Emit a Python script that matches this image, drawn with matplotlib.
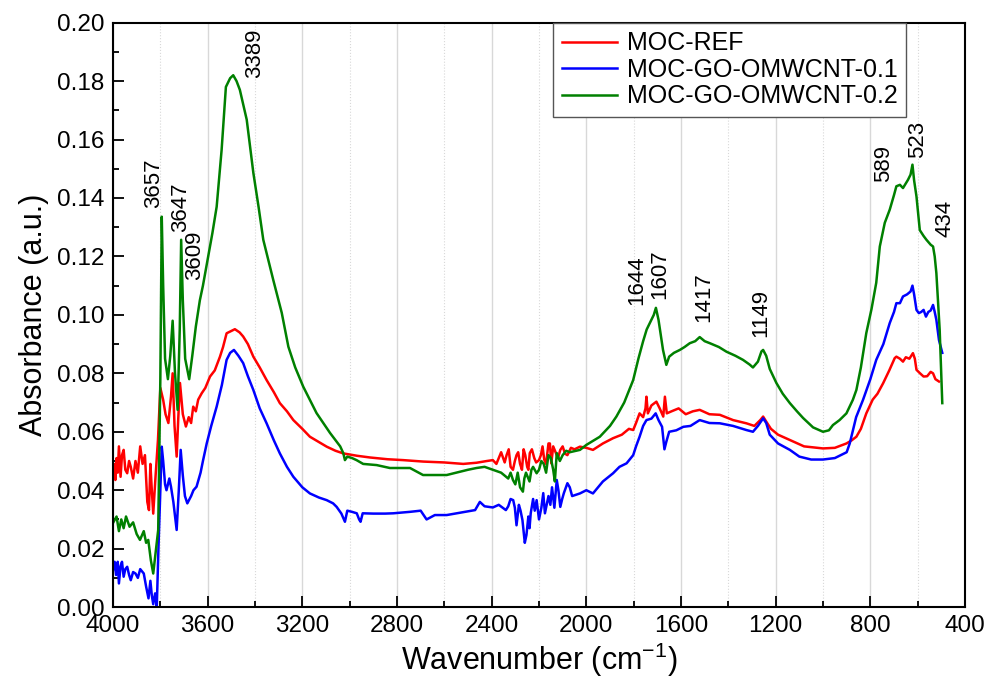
import matplotlib
matplotlib.use("Agg")
import matplotlib.pyplot as plt
from matplotlib.ticker import MultipleLocator

plt.rcParams["font.family"] = ["Liberation Sans", "DejaVu Sans"]
plt.rcParams["mathtext.default"] = "regular"

# ── Data ──────────────────────────────────────────
# MOC-REF
wn_ref = [4000, 3995, 3990, 3985, 3980, 3975, 3968, 3962, 3955, 3948, 3940, 3932, 3925, 3915,
          3905, 3895, 3885, 3875, 3865, 3855, 3848, 3842, 3836, 3830, 3820, 3810, 3800, 3788,
          3778, 3766, 3755, 3748, 3740, 3731, 3724, 3717, 3705, 3692, 3680, 3670, 3661, 3650,
          3640, 3625, 3610, 3590, 3570, 3548, 3535, 3520, 3500, 3485, 3465, 3450, 3430, 3407,
          3380, 3351, 3320, 3295, 3265, 3238, 3200, 3168, 3130, 3097, 3060, 3027, 2970, 2914,
          2840, 2774, 2689, 2600, 2520, 2464,
          2420, 2395, 2380, 2360, 2345, 2337, 2328, 2320, 2310, 2302, 2295, 2288, 2280, 2272,
          2265, 2258, 2250, 2245, 2239, 2230, 2220, 2212, 2200, 2192, 2185, 2178, 2170, 2160,
          2154, 2148, 2140, 2130, 2120, 2110, 2100, 2090, 2080, 2065, 2050,
          2027, 2000, 1972, 1930, 1887, 1850, 1820, 1802, 1790, 1775, 1760, 1750, 1746,
          1740, 1725, 1704, 1690, 1675, 1668, 1660, 1640, 1610, 1580, 1550, 1521, 1480, 1436,
          1380, 1324, 1290, 1265, 1253, 1240, 1220, 1190, 1140, 1080, 1000, 950, 901, 880,
          859, 840, 817, 790, 770, 746, 720, 697, 690, 675, 662, 650, 635, 620, 612, 605,
          590, 575, 560, 545, 535, 525, 510]
abs_ref = [0.047, 0.049, 0.0435, 0.051, 0.046, 0.055, 0.0446, 0.052, 0.0538, 0.047, 0.0458, 0.050,
           0.048, 0.044, 0.050, 0.046, 0.055, 0.049, 0.052, 0.036, 0.0332, 0.049, 0.040, 0.032,
           0.045, 0.0572, 0.075, 0.0709, 0.066, 0.063, 0.072, 0.080, 0.062, 0.0515, 0.065, 0.0767,
           0.066, 0.0618, 0.065, 0.063, 0.0686, 0.067, 0.071, 0.0732, 0.075, 0.0789, 0.081, 0.0857,
           0.089, 0.0937, 0.0945, 0.0951, 0.094, 0.0926, 0.090, 0.0857, 0.082, 0.0777, 0.0735,
           0.0698, 0.067, 0.064, 0.061, 0.0583, 0.0565, 0.0549, 0.0535, 0.0526, 0.0518, 0.0512,
           0.0506, 0.0503, 0.0498, 0.0495, 0.049, 0.0494,
           0.050, 0.0503, 0.049, 0.053, 0.0495, 0.052, 0.054, 0.048, 0.047, 0.050, 0.052, 0.053,
           0.049, 0.047, 0.054, 0.052, 0.048, 0.047, 0.0527, 0.054, 0.051, 0.0495, 0.0503, 0.052,
           0.055, 0.0505, 0.049, 0.056, 0.056, 0.0492, 0.055, 0.053, 0.051, 0.0538, 0.055, 0.0525,
           0.052, 0.0545, 0.054,
           0.0549, 0.0545, 0.0538, 0.056, 0.0578,
           0.059, 0.061, 0.0606, 0.063, 0.0663, 0.065, 0.068, 0.072, 0.0663, 0.069, 0.0703,
           0.068, 0.0652, 0.072, 0.0663, 0.067, 0.068, 0.066, 0.067, 0.0675, 0.066, 0.0658,
           0.064, 0.0629, 0.062, 0.064, 0.0652, 0.0635, 0.061, 0.059, 0.0572, 0.055, 0.0543,
           0.0545, 0.056, 0.057, 0.0583, 0.061, 0.0663, 0.071, 0.073, 0.0766, 0.081, 0.0852,
           0.0857, 0.085, 0.084, 0.0855, 0.085, 0.0869, 0.085, 0.0812, 0.080, 0.0789, 0.079,
           0.0805, 0.080, 0.078, 0.0772]

# MOC-GO-OMWCNT-0.1
wn_01 = [4000, 3993, 3987, 3980, 3975, 3968, 3962, 3955, 3948, 3940, 3932, 3925, 3915, 3905,
         3895, 3885, 3870, 3860, 3850, 3842, 3836, 3830, 3822, 3815, 3808, 3800, 3794, 3788,
         3780, 3774, 3762, 3755, 3745, 3731, 3722, 3714, 3705, 3696, 3686, 3670, 3660, 3647,
         3630, 3620, 3604, 3585, 3562, 3540, 3520, 3505, 3489, 3470, 3450, 3430, 3407, 3380,
         3351, 3320, 3295, 3265, 3238, 3200, 3168, 3130, 3097, 3070, 3055, 3035, 3020, 3010,
         2990, 2970, 2960, 2954, 2945, 2900, 2850, 2816, 2745, 2700, 2675, 2640, 2590, 2520,
         2470, 2450, 2430, 2395, 2370, 2340, 2330, 2320, 2309, 2302, 2295, 2285, 2278, 2270,
         2260, 2253, 2245, 2240, 2235, 2225, 2218, 2210, 2200, 2190, 2182, 2175, 2160, 2152,
         2145, 2135, 2125, 2118, 2110, 2102, 2095, 2080, 2070, 2060,
         2027, 2000, 1972, 1930, 1887, 1860, 1830, 1802, 1790, 1775, 1760, 1746, 1725, 1707,
         1695, 1680, 1670, 1662, 1650, 1620, 1590, 1560, 1521, 1480, 1436, 1380, 1324, 1296,
         1275, 1253, 1240, 1225, 1190, 1140, 1100, 1050, 1000, 950, 900, 887, 860, 831,
         800, 775, 745, 718, 700, 690, 675, 662, 645, 630, 622, 615, 605, 595, 585, 575,
         565, 555, 545, 535, 528, 521, 510, 496]
abs_01 = [0.0127, 0.0155, 0.011, 0.0155, 0.0081, 0.014, 0.0155, 0.0104, 0.013, 0.0138, 0.011,
          0.0092, 0.012, 0.0115, 0.010, 0.013, 0.0115, 0.007, 0.003, 0.009, 0.004, 0.001,
          0.0047, 0.0001, 0.020, 0.040, 0.0549, 0.050, 0.042, 0.040, 0.044, 0.0412, 0.036,
          0.0264, 0.040, 0.0538, 0.045, 0.038, 0.0355, 0.038, 0.040, 0.0412, 0.046, 0.050,
          0.056, 0.062, 0.0686, 0.076, 0.0846, 0.087, 0.088, 0.086, 0.0835, 0.079, 0.0743,
          0.068, 0.0629, 0.057, 0.0526, 0.048, 0.0446, 0.041, 0.0389, 0.0375, 0.0366, 0.0355,
          0.0343, 0.032, 0.0292, 0.033, 0.0326, 0.0321, 0.030, 0.0292, 0.0321, 0.032, 0.032,
          0.0321, 0.0326, 0.033, 0.030, 0.0315, 0.0315, 0.0325,
          0.0332, 0.036, 0.0345, 0.0341, 0.035, 0.0332, 0.0345, 0.037, 0.0366, 0.034, 0.028,
          0.035, 0.033, 0.0298, 0.022, 0.0247, 0.031, 0.027, 0.0321, 0.037, 0.033, 0.0366,
          0.030, 0.034, 0.039, 0.0321, 0.038, 0.035, 0.041, 0.034, 0.0435, 0.040, 0.0343,
          0.037, 0.039, 0.0424, 0.041, 0.038,
          0.0389, 0.040, 0.0389, 0.043, 0.0458, 0.048, 0.0492, 0.052, 0.055,
          0.0583, 0.062, 0.064, 0.0645, 0.0663, 0.064, 0.0617, 0.054, 0.0566, 0.060, 0.0605,
          0.0617, 0.062, 0.064, 0.063, 0.0629, 0.062, 0.0606, 0.0600, 0.062, 0.0646, 0.063,
          0.059, 0.056, 0.0538, 0.0515, 0.0505, 0.0505, 0.051, 0.053, 0.056, 0.065, 0.0709,
          0.078, 0.0846, 0.090, 0.0972, 0.101, 0.104, 0.104, 0.1063, 0.107, 0.108, 0.110,
          0.107, 0.1017, 0.1006, 0.101, 0.1017, 0.0994, 0.101, 0.1015, 0.1034, 0.101, 0.0983,
          0.0914, 0.087]

# MOC-GO-OMWCNT-0.2
wn_02 = [4000, 3985, 3975, 3965, 3955, 3945, 3930, 3915, 3900, 3886, 3870, 3860, 3851, 3840,
         3830, 3815, 3809, 3800, 3794, 3788, 3780, 3768, 3758, 3748, 3738, 3727, 3718, 3712,
         3705, 3695, 3678, 3665, 3650, 3633, 3620, 3600, 3580, 3562, 3541, 3523, 3505, 3492,
         3478, 3464, 3435, 3407, 3385, 3365, 3323, 3287, 3259, 3230, 3196, 3140, 3083, 3040,
         3027, 3020, 3010, 2990, 2971, 2943, 2886, 2830, 2745, 2690, 2590, 2500, 2464,
         2430, 2395, 2360, 2330, 2320, 2310, 2300, 2290, 2280, 2268, 2262, 2255, 2240, 2232,
         2225, 2210, 2200, 2190, 2180, 2170, 2160, 2150, 2140, 2133, 2125, 2112, 2100, 2085,
         2070,
         2027, 2000, 1943, 1900, 1873, 1840, 1802, 1780, 1760,
         1745, 1732, 1715, 1706, 1695, 1676, 1662, 1650, 1630, 1605, 1585, 1563, 1540, 1521,
         1500, 1478, 1440, 1408, 1370, 1338, 1310, 1296, 1275, 1260, 1253, 1240, 1225, 1197,
         1170, 1140, 1110, 1084, 1042, 1000, 975, 958, 930, 901, 874, 859, 840, 817,
         795, 775, 760, 739, 718, 700, 690, 675, 662, 650, 641, 630, 622, 615, 605, 591,
         575, 563, 545, 535, 528, 521, 507, 496]
abs_02 = [0.0288, 0.031, 0.026, 0.030, 0.027, 0.031, 0.0275, 0.029, 0.025, 0.023, 0.026, 0.022,
          0.023, 0.016, 0.0115, 0.022, 0.0264, 0.078, 0.1336, 0.110, 0.085, 0.078, 0.086, 0.098,
          0.080, 0.0675, 0.095, 0.1257, 0.105, 0.085, 0.078, 0.086, 0.096, 0.105, 0.110, 0.119,
          0.128, 0.137, 0.1565, 0.178, 0.181, 0.182, 0.180, 0.177, 0.1668, 0.1486, 0.137, 0.1257,
          0.112, 0.1007, 0.0891, 0.082, 0.0754, 0.0664, 0.0596, 0.055, 0.0527, 0.0503, 0.0515,
          0.051, 0.0503, 0.049, 0.0486, 0.0476, 0.0476, 0.0452, 0.0452, 0.047, 0.0476,
          0.048, 0.047, 0.046, 0.044, 0.046, 0.0435, 0.042, 0.046, 0.041, 0.0395, 0.044, 0.046,
          0.043, 0.047, 0.048, 0.0458, 0.047, 0.050, 0.049, 0.046, 0.052, 0.051, 0.047, 0.043,
          0.0527, 0.050, 0.052, 0.0535, 0.053,
          0.0538, 0.0555, 0.0583, 0.062, 0.0652,
          0.070, 0.0777, 0.085, 0.091, 0.095, 0.0972, 0.100, 0.1024, 0.0983, 0.088, 0.0829,
          0.0857, 0.087, 0.088, 0.089, 0.0903, 0.091, 0.0924, 0.091, 0.0903, 0.089, 0.0874,
          0.086, 0.0846, 0.083, 0.082, 0.084, 0.0875, 0.088, 0.086, 0.0815, 0.0767, 0.073,
          0.0698, 0.067, 0.0647, 0.0615, 0.060, 0.0605, 0.0623, 0.064, 0.0663, 0.0709, 0.0743,
          0.082, 0.0938, 0.102, 0.111, 0.1234, 0.1315, 0.136, 0.141, 0.144, 0.1445, 0.1434,
          0.145, 0.1462, 0.148, 0.1514, 0.146, 0.1405, 0.129, 0.127, 0.1257, 0.124, 0.1234,
          0.120, 0.1143, 0.0949, 0.0698]

series_labels = ["MOC-REF", "MOC-GO-OMWCNT-0.1", "MOC-GO-OMWCNT-0.2"]
series_colors = ["#FF0000", "#0000FF", "#008000"]

# peak labels: text, x position (wavenumber), y of text bottom
peak_text = ["3657", "3647", "3609", "3389", "1644", "1607", "1417", "1149", "589", "523", "434"]
peak_x = [3827, 3715, 3656, 3400, 1785, 1690, 1502, 1263, 742, 602, 486]
peak_y = [0.1366, 0.1284, 0.112, 0.181, 0.1035, 0.1055, 0.0976, 0.0925, 0.1455, 0.1538, 0.1267]

# ── Figure ─────────────────────────────────────────
fig = plt.figure(figsize=(10, 6.86), dpi=100)
ax = fig.add_axes([0.113, 0.115, 0.852, 0.852])

ax.xaxis.grid(True, which="major", color="#d8d8d8", linewidth=1.0, linestyle="-")
ax.xaxis.grid(True, which="minor", color="#d8d8d8", linewidth=0.8, linestyle=":")
ax.set_axisbelow(True)

for wn, ab, lab, col in zip([wn_ref, wn_01, wn_02], [abs_ref, abs_01, abs_02],
                            series_labels, series_colors):
    ax.plot(wn, ab, color=col, linewidth=1.8, label=lab)

for t, x, y in zip(peak_text, peak_x, peak_y):
    ax.text(x, y, t, rotation=90, ha="center", va="bottom", fontsize=16)

ax.set_xlim(4000, 400)
ax.set_ylim(0, 0.20)
ax.xaxis.set_major_locator(MultipleLocator(400))
ax.xaxis.set_minor_locator(MultipleLocator(200))
ax.yaxis.set_major_locator(MultipleLocator(0.02))
ax.yaxis.set_minor_locator(MultipleLocator(0.01))
ax.yaxis.set_major_formatter(lambda v, p: f"{v:.2f}")
ax.tick_params(which="both", direction="in", top=False, right=False, labelsize=17.5, width=1.3)
ax.tick_params(which="major", length=8, pad=6)
ax.tick_params(which="minor", length=4)
for s in ax.spines.values():
    s.set_linewidth(1.5)

ax.set_xlabel("Wavenumber (cm$^{-1}$)", fontsize=22, labelpad=2)
ax.set_ylabel("Absorbance (a.u.)", fontsize=22, labelpad=6)

leg = ax.legend(loc="upper right", bbox_to_anchor=(0.931, 1.0), borderaxespad=0,
                fontsize=18, handlelength=2.2, labelspacing=0.1, fancybox=False,
                framealpha=1, edgecolor="#555555", borderpad=0.35, handletextpad=0.4)
leg.get_frame().set_linewidth(1.0)

fig.savefig("out.png", dpi=100)
